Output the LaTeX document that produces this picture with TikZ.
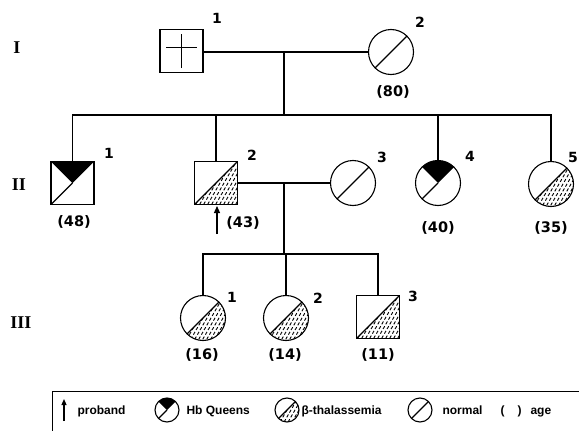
\documentclass[tikz,border=0pt]{standalone}
\usepackage{fontspec}
\setmainfont{Liberation Sans}
\newfontfamily\numfont{DejaVu Sans}
\newfontfamily\romfont{Liberation Serif}
\usetikzlibrary{calc,arrows.meta}
\newcommand\ppHatch{%
 \begin{scope}
  \clip ($(path picture bounding box.center)+(40pt,40pt)$) -- ++(0pt,-80pt) -- ++(-80pt,0pt) -- cycle;
  \foreach \k in {-48,-44,...,48} {\draw[line width=0.9pt, dash pattern=on 3.2pt off 2.2pt] ($(path picture bounding box.center)+(\k pt-15pt,-26pt)$) -- ++(30pt,52pt);}
 \end{scope}
 \draw[line width=1.1pt] ($(path picture bounding box.center)+(-30pt,-30pt)$) -- ++(60pt,60pt);}
\newcommand\ppNormal{%
 \draw[line width=1.1pt] ($(path picture bounding box.center)+(-30pt,-30pt)$) -- ++(60pt,60pt);}
\newcommand\ppHbq{%
 \fill (path picture bounding box.center) -- ++(40pt,40pt) -- ++(-80pt,0pt) -- cycle;
 \draw[line width=1.1pt] (path picture bounding box.center) -- ++(-40pt,-40pt);}
\newcommand\ppCross{%
 \draw[line width=1.2pt] ($(path picture bounding box.center)+(-15.5pt,3.5pt)$) -- ++(31pt,0pt);
 \draw[line width=1.2pt] ($(path picture bounding box.center)+(0pt,-17pt)$) -- ++(0pt,34pt);}
\tikzset{
 male/.style={draw, rectangle, minimum size=43pt, inner sep=0pt},
 female/.style={draw, circle, minimum size=45pt, inner sep=0pt},
 lgd/.style={draw, circle, minimum size=24pt, inner sep=0pt},
 thal/.style={path picture={\ppHatch}},
 normal/.style={path picture={\ppNormal}},
 hbq/.style={path picture={\ppHbq}},
 crossed/.style={path picture={\ppCross}},
 idlab/.style={font=\numfont\bfseries\fontsize{14}{14}\selectfont, inner sep=0pt},
 agelab/.style={font=\numfont\bfseries\fontsize{14.5}{15}\selectfont, inner sep=0pt},
 genlab/.style={font=\romfont\bfseries\fontsize{18}{18}\selectfont, inner sep=0pt},
 lgdtxt/.style={font=\bfseries\fontsize{12}{12}\selectfont, inner sep=0pt, anchor=base west},
}
\begin{document}
\begin{tikzpicture}[x=1pt,y=-1pt,line width=1.1pt]
\useasboundingbox (0,0) rectangle (579,431);
% generation labels
\node[genlab] (gI) at (17,48) {I};
\node[genlab] (gII) at (19,185) {II};
\node[genlab] (gIII) at (21,323) {III};
% generation I
\node[male, crossed] (i1) at (181.5,51) {};
\node[female, normal] (i2) at (391,52) {};
\node[idlab] (li1) at (217,18) {1};
\node[idlab] (li2) at (420,22) {2};
\node[agelab] (ai2) at (393,92) {(80)};
\coordinate (m1) at (284,52);
\coordinate (s1) at (284,115);
\draw (i1.east |- m1) -- (i2.west);
\draw (m1) -- (s1);
% generation II
\node[male, hbq] (ii1) at (72.5,183) {};
\node[male, thal] (ii2) at (216,183) {};
\node[female, normal] (ii3) at (353,183) {};
\node[female, hbq] (ii4) at (438,183) {};
\node[female, thal] (ii5) at (551,184) {};
\node[idlab] (lii1) at (109,153) {1};
\node[idlab] (lii2) at (252,155) {2};
\node[idlab] (lii3) at (382,157) {3};
\node[idlab] (lii4) at (470,156) {4};
\node[idlab] (lii5) at (573,157) {5};
\node[agelab] (aii1) at (74,222) {(48)};
\node[agelab] (aii2) at (243,223) {(43)};
\node[agelab] (aii4) at (438,228) {(40)};
\node[agelab] (aii5) at (551,228) {(35)};
\draw (ii1.north) -- (ii1.north |- s1) -- (ii5.north |- s1) -- (ii5.north);
\draw (ii2.north) -- (ii2.north |- s1);
\draw (ii4.north) -- (ii4.north |- s1);
\coordinate (arrA) at (217,234);
\coordinate (arrB) at (217,206);
\draw[line width=1.2pt, -{Triangle[length=7pt,width=6pt]}] (arrA) -- (arrB);
% marriage II-2 x II-3
\coordinate (m2) at (284,183);
\coordinate (s2) at (284,254);
\draw (ii2.east) -- (ii3.west);
\draw (m2) -- (s2);
% generation III
\node[female, thal] (iii1) at (203,318) {};
\node[female, thal] (iii2) at (286,318) {};
\node[male, thal] (iii3) at (378,317) {};
\node[idlab] (liii1) at (232,297) {1};
\node[idlab] (liii2) at (318,298) {2};
\node[idlab] (liii3) at (413,296) {3};
\node[agelab] (aiii1) at (202,355) {(16)};
\node[agelab] (aiii2) at (285,355) {(14)};
\node[agelab] (aiii3) at (378,355) {(11)};
\draw (iii1.north) -- (iii1.north |- s2) -- (iii3.north |- s2) -- (iii3.north);
\draw (iii2.north) -- (iii2.north |- s2);
% legend
\coordinate (bx1) at (52,440);
\coordinate (bx2) at (52,391);
\coordinate (bx3) at (582,391);
\draw[line width=0.9pt] (bx1) -- (bx2) -- (bx3);
\coordinate (la1) at (64,421);
\coordinate (la2) at (64,399);
\draw[line width=1.2pt, -{Triangle[length=6pt,width=5pt]}] (la1) -- (la2);
\node[lgdtxt] (tp) at (77,414) {proband};
\node[lgd, hbq] (lh) at (167,410) {};
\node[lgdtxt] (th) at (186,414) {Hb Queens};
\node[lgd, thal] (lt) at (287,410) {};
\node[lgdtxt] (tt) at (301,414) {β-thalassemia};
\node[lgd, normal] (ln) at (420,410) {};
\node[lgdtxt] (tn) at (442,414) {normal};
\node[lgdtxt] (tpar) at (500,414) {(\hspace{13pt})};
\node[lgdtxt] (tage) at (530,414) {age};
\end{tikzpicture}
\end{document}
